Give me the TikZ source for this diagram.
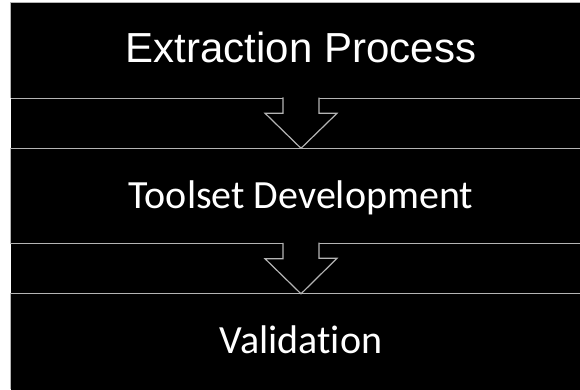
\documentclass[tikz,border=0pt]{standalone}
\usepackage{fontspec}
\setmainfont{Liberation Sans}
\newfontfamily\calibrifont[Ligatures=NoCommon]{Carlito}
\usetikzlibrary{calc}
\definecolor{edgegray}{RGB}{180,180,180}

\begin{document}
\begin{tikzpicture}[x=1pt, y=-1pt,
    stage/.style={fill=black, text=white,
        minimum width=590pt, minimum height=95pt, inner sep=0pt,
        text height=24pt, text depth=0pt},
    edge/.style={draw=edgegray, line width=1.2pt},
    blockarrow/.style={draw=edgegray, fill=black, line width=1.2pt}]

        % Page and black background
        \path[use as bounding box, clip] (0,0) rectangle (580,389);
        \fill[black] (11,3) rectangle (595,395);

        % Stage nodes
        \node[stage, font=\fontsize{42}{50}\selectfont] (extraction) at (306,50.5) {\hspace*{-10pt}Extraction Process};
        \node[stage, font=\calibrifont\fontsize{40}{48}\selectfont] (toolset) at (306,196) {\hspace*{-10pt}Toolset Development};
        \node[stage, font=\calibrifont\fontsize{40}{48}\selectfont] (validation) at (306,341.5) {\hspace*{-10pt}Validation};

        % Stage borders (open on the right)
        \foreach \s in {extraction,toolset,validation}
            \draw[edge] (\s.north east) -- (\s.north west) -- (\s.south west);
        \draw[edge] (extraction.south west) -- (extraction.south east);
        \draw[edge] (toolset.south west) -- (toolset.south east);

        % Block arrows between stages
        \draw[blockarrow] ($(extraction.south)+(-23,-0.8)$) -- ++(0,15.8) -- ++(-18,0)
            -- ($(toolset.north)+(-5,0)$) -- ++(36,-35) -- ++(-18,0) -- ++(0,-15.8);
        \draw[blockarrow] ($(toolset.south)+(-23,-0.8)$) -- ++(0,15.8) -- ++(-18,0)
            -- ($(validation.north)+(-5,0)$) -- ++(36,-35.5) -- ++(-18,0) -- ++(0,-15.8);
    \end{tikzpicture}
\end{document}
